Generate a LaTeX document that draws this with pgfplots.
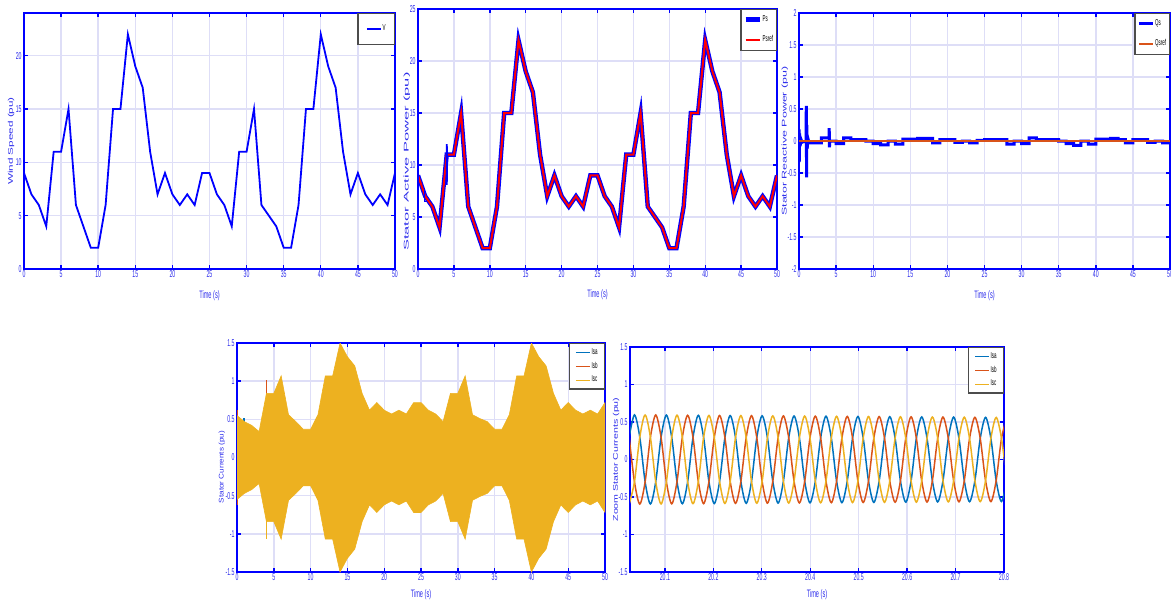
\documentclass[border=0pt]{standalone}
\usepackage{fontspec}
\setmainfont{Liberation Sans}
\newfontfamily\condfam[FakeStretch=0.52]{Liberation Sans}
\usepackage{graphicx}
\usepackage{pgfplots}
\usepackage{pgfplotstable}
\pgfplotsset{compat=1.18}

\definecolor{axblue}{RGB}{0,0,255}
\definecolor{tlblue}{RGB}{45,45,235}
\definecolor{gridc}{RGB}{222,222,247}
\definecolor{mblue}{RGB}{0,114,189}
\definecolor{morange}{RGB}{217,83,25}
\definecolor{myellow}{RGB}{237,177,32}

\newcommand\tkf{\condfam\fontsize{5}{6}\selectfont}
\newcommand\xlf{\condfam\fontsize{5.4}{6.4}\selectfont}
\newcommand\ylf{\fontsize{3.4}{4}\selectfont}
\newcommand\lgf{\condfam\fontsize{4.3}{5}\selectfont}

% wind speed profile (also the active power reference)
\pgfplotstableread{
t v
0 9
1 7
2 6
3 4
4 11
5 11
6 15
7 6
8 4
9 2
10 2
11 6
12 15
13 15
14 22
15 19
16 17
17 11
18 7
19 9
20 7
21 6
22 7
23 6
24 9
25 9
26 7
27 6
28 4
29 11
30 11
31 15
32 6
33 5
34 4
35 2
36 2
37 6
38 15
39 15
40 22
41 19
42 17
43 11
44 7
45 9
46 7
47 6
48 7
49 6
50 9
}\windtab

% zoomed stator currents, read at peaks and half-amplitude points
\pgfplotstableread{
t a b c
20.0262 0.2975 0.2975 -0.595
20.0372 0.595 -0.2975 -0.2975
20.0482 0.297 -0.594 0.297
20.0592 -0.297 -0.297 0.594
20.0701 -0.593 0.2965 0.2965
20.0811 -0.2965 0.593 -0.2965
20.0921 0.296 0.296 -0.592
20.1031 0.592 -0.296 -0.296
20.1141 0.2955 -0.591 0.2955
20.1250 -0.2955 -0.2955 0.591
20.1360 -0.590 0.295 0.295
20.1470 -0.295 0.590 -0.295
20.1580 0.2945 0.2945 -0.589
20.1690 0.589 -0.2945 -0.2945
20.1799 0.294 -0.588 0.294
20.1909 -0.294 -0.294 0.588
20.2019 -0.587 0.2935 0.2935
20.2129 -0.2935 0.587 -0.2935
20.2239 0.293 0.293 -0.586
20.2348 0.586 -0.293 -0.293
20.2458 0.2925 -0.585 0.2925
20.2568 -0.2925 -0.2925 0.585
20.2678 -0.584 0.292 0.292
20.2788 -0.292 0.584 -0.292
20.2897 0.2915 0.2915 -0.583
20.3007 0.583 -0.2915 -0.2915
20.3117 0.291 -0.582 0.291
20.3227 -0.291 -0.291 0.582
20.3337 -0.581 0.2905 0.2905
20.3446 -0.2905 0.581 -0.2905
20.3556 0.290 0.290 -0.580
20.3666 0.580 -0.290 -0.290
20.3776 0.2895 -0.579 0.2895
20.3886 -0.2895 -0.2895 0.579
20.3995 -0.578 0.289 0.289
20.4105 -0.289 0.578 -0.289
20.4215 0.2885 0.2885 -0.577
20.4325 0.577 -0.2885 -0.2885
20.4435 0.288 -0.576 0.288
20.4544 -0.288 -0.288 0.576
20.4654 -0.575 0.2875 0.2875
20.4764 -0.2875 0.575 -0.2875
20.4874 0.287 0.287 -0.574
20.4984 0.574 -0.287 -0.287
20.5093 0.2865 -0.573 0.2865
20.5203 -0.2865 -0.2865 0.573
20.5313 -0.572 0.286 0.286
20.5423 -0.286 0.572 -0.286
20.5533 0.2855 0.2855 -0.571
20.5642 0.571 -0.2855 -0.2855
20.5752 0.285 -0.570 0.285
20.5862 -0.285 -0.285 0.570
20.5972 -0.569 0.2845 0.2845
20.6082 -0.2845 0.569 -0.2845
20.6191 0.284 0.284 -0.568
20.6301 0.568 -0.284 -0.284
20.6411 0.2835 -0.567 0.2835
20.6521 -0.2835 -0.2835 0.567
20.6631 -0.566 0.283 0.283
20.6740 -0.283 0.566 -0.283
20.6850 0.2825 0.2825 -0.565
20.6960 0.565 -0.2825 -0.2825
20.7070 0.282 -0.564 0.282
20.7180 -0.282 -0.282 0.564
20.7289 -0.563 0.2815 0.2815
20.7399 -0.2815 0.563 -0.2815
20.7509 0.281 0.281 -0.562
20.7619 0.562 -0.281 -0.281
20.7729 0.2805 -0.561 0.2805
20.7838 -0.2805 -0.2805 0.561
20.7948 -0.560 0.280 0.280
20.8058 -0.280 0.560 -0.280
}\zoomtab

\pgfplotsset{
  every axis y label/.style={rotate=90,anchor=center},
  every axis x label/.style={anchor=center},
  mat/.style={
    scale only axis, anchor=south west,
    axis line style={draw=axblue,line width=0.9pt},
    tick style={draw=axblue,line width=0.7pt},
    major tick length=2.2pt,
    tick align=inside,
    grid=major,
    major grid style={draw=gridc,line width=0.7pt},
    ticklabel style={font=\tkf,text=tlblue},
    /pgf/number format/assume math mode=true,
    xticklabel style={anchor=north,inner sep=0pt,yshift=-0.8pt},
    yticklabel style={anchor=east,inner sep=0pt,xshift=-1pt},
    xticklabel shift=0pt, yticklabel shift=0pt,
    xlabel style={font=\xlf,text=tlblue},
    ylabel style={font=\ylf,text=tlblue},
    legend style={at={(rel axis cs:1,1)},anchor=north east,draw=black!70,
      line width=0.7pt,fill=white,font=\lgf,inner xsep=1.5pt,inner ysep=2pt,
      row sep=2pt,nodes={inner sep=0.4pt}},
    legend cell align=left,
    legend image code/.code={\draw[##1] (0pt,0pt) -- (7pt,0pt);},
  },
}

\begin{document}
\begin{tikzpicture}

% wind speed
\begin{axis}[mat, at={(12pt,166pt)}, width=185.5pt, height=128pt,
  xmin=0, xmax=50, ymin=0, ymax=24,
  xtick={0,5,...,50}, ytick={0,5,...,20},
  xlabel={Time (s)}, xlabel style={at={(rel axis cs:0.5,-0.105)}},
  ylabel={\scalebox{1.72}[1]{Wind Speed (pu)}}, ylabel style={at={(rel axis cs:-0.035,0.5)}},
  legend style={inner xsep=4pt,inner ysep=5pt}]
\addplot[axblue, line width=0.9pt] table[x=t,y=v]{\windtab};
\legend{V}
\end{axis}

% stator active power
\begin{axis}[mat, at={(209pt,166pt)}, width=179.5pt, height=130pt,
  xmin=0, xmax=50, ymin=0, ymax=25,
  xtick={0,5,...,50}, ytick={0,5,...,25},
  xlabel={Time (s)}, xlabel style={at={(rel axis cs:0.5,-0.1)}},
  ylabel={\scalebox{2.42}[1]{Stator Active Power (pu)}}, ylabel style={at={(rel axis cs:-0.031,0.413)}},
  legend style={inner xsep=1.2pt,inner ysep=2.3pt,row sep=5pt}]
\addplot[axblue, line width=2.2pt] table[x=t,y=v]{\windtab};
\addplot[red, line width=1pt] table[x=t,y=v]{\windtab};
\addplot[axblue, line width=0.8pt, forget plot] coordinates {(0.02,0) (0.02,9.9)};
\addplot[axblue, line width=0.8pt, forget plot] coordinates {(0.93,7.7) (0.93,6.5) (1.2,6.5)};
\addplot[axblue, line width=0.8pt, forget plot] coordinates {(4.0,8.1) (4.0,12) (4.06,8.4) (4.06,11.8)};
\legend{Ps,Psref}
\end{axis}

% stator reactive power
\begin{axis}[mat, at={(399.5pt,166pt)}, width=185.5pt, height=128pt,
  xmin=0, xmax=50, ymin=-2, ymax=2,
  xtick={0,5,...,50}, ytick={-2,-1.5,...,2},
  xlabel={Time (s)}, xlabel style={at={(rel axis cs:0.5,-0.105)}},
  ylabel={\scalebox{1.83}[1]{Stator Reactive Power (pu)}}, ylabel style={at={(rel axis cs:-0.038,0.5)}},
  legend style={inner xsep=1.2pt,inner ysep=2.3pt,row sep=5pt}]
\addplot[axblue, line width=1.5pt] coordinates {
 (0,0.18) (0.03,-0.33) (0.08,0.12) (0.15,-0.08) (0.25,0.03) (0.4,-0.02) (0.6,-0.01)
 (0.95,-0.01) (0.98,0.55) (1.02,-0.57) (1.06,0.25) (1.1,-0.12) (1.2,0.04) (1.35,-0.03)
 (3,-0.03) (3,0.05) (4.05,0.05) (4.07,0.2) (4.1,-0.1) (4.15,0) (5,0) (5,-0.04) (6,-0.04)
 (6,0.05) (7,0.05) (7,0.02) (9,0.02) (9,0) (10,0) (10,-0.04) (11,-0.04) (11,-0.06)
 (12,-0.06) (12,0) (13,0) (13,-0.05) (14,-0.05) (14,0.03) (16,0.03) (16,0.04) (18,0.04)
 (18,-0.03) (19,-0.03) (19,0.02) (21,0.02) (21,-0.02) (22,-0.02) (22,0) (23,0) (23,-0.03)
 (24,-0.03) (24,0.01) (25,0.01) (25,0.02) (28,0.02) (28,-0.05) (29,-0.05) (29,0) (30,0)
 (30,-0.04) (31,-0.04) (31,0.05) (32,0.05) (32,0.02) (35,0.02) (35,0) (36,0) (36,-0.04)
 (37,-0.04) (37,-0.07) (38,-0.07) (38,0) (39,0) (39,-0.05) (40,-0.05) (40,0.03) (42,0.03)
 (42,0.04) (43,0.04) (43,0.02) (44,0.02) (44,-0.03) (45,-0.03) (45,0.02) (47,0.02)
 (47,-0.02) (48,-0.02) (48,0) (49,0) (49,-0.03) (50,-0.03)};
\addplot[morange, line width=1pt] coordinates {(0,0) (50,0)};
\legend{Qs,Qsref}
\end{axis}

% stator currents, envelope of the 3 phases
\begin{axis}[mat, at={(118.5pt,14.5pt)}, width=184pt, height=114.5pt,
  xmin=0, xmax=50, ymin=-1.5, ymax=1.5,
  xtick={0,5,...,50}, ytick={-1.5,-1,...,1.5},
  xlabel={Time (s)}, xlabel style={at={(rel axis cs:0.5,-0.1)}},
  ylabel={\scalebox{1.2}[1]{Stator Currents (pu)}}, ylabel style={at={(rel axis cs:-0.041,0.4585)}},
  legend style={inner xsep=3pt,inner ysep=1.8pt,row sep=1.6pt}]
\addlegendimage{mblue,line width=0.75pt}
\addlegendimage{morange,line width=0.75pt}
\addlegendimage{myellow,line width=0.75pt}
\addplot[morange, line width=0.6pt, forget plot] coordinates {(0.05,-0.62) (0.05,0.62)};
\addplot[mblue, line width=0.6pt, forget plot] coordinates {(0.95,0.3) (0.95,0.52)};
\addplot[morange, line width=0.6pt, forget plot] coordinates {(4.05,0.5) (4.05,1.02)};
\addplot[myellow, line width=0.6pt, forget plot] coordinates {(4.05,-0.5) (4.05,-1.07)};
\addplot[fill=myellow, draw=myellow, line width=0.3pt, forget plot] coordinates {
 (0,0.55) (1,0.47) (2,0.42) (3,0.34) (4,0.84) (5,0.84) (6,1.07) (7,0.56) (8,0.47) (9,0.37)
 (10,0.37) (11,0.56) (12,1.07) (13,1.07) (14,1.5) (15,1.32) (16,1.2) (17,0.84) (18,0.62)
 (19,0.72) (20,0.62) (21,0.57) (22,0.62) (23,0.57) (24,0.72) (25,0.72) (26,0.62) (27,0.57)
 (28,0.47) (29,0.84) (30,0.84) (31,1.07) (32,0.56) (33,0.51) (34,0.47) (35,0.37) (36,0.37)
 (37,0.56) (38,1.07) (39,1.07) (40,1.5) (41,1.32) (42,1.2) (43,0.84) (44,0.62) (45,0.72)
 (46,0.62) (47,0.57) (48,0.62) (49,0.57) (50,0.72)
 (50,-0.72) (49,-0.57) (48,-0.62) (47,-0.57) (46,-0.62) (45,-0.72) (44,-0.62) (43,-0.84)
 (42,-1.2) (41,-1.32) (40,-1.5) (39,-1.07) (38,-1.07) (37,-0.56) (36,-0.37) (35,-0.37)
 (34,-0.47) (33,-0.51) (32,-0.56) (31,-1.07) (30,-0.84) (29,-0.84) (28,-0.47) (27,-0.57)
 (26,-0.62) (25,-0.72) (24,-0.72) (23,-0.57) (22,-0.62) (21,-0.57) (20,-0.62) (19,-0.72)
 (18,-0.62) (17,-0.84) (16,-1.2) (15,-1.32) (14,-1.5) (13,-1.07) (12,-1.07) (11,-0.56)
 (10,-0.37) (9,-0.37) (8,-0.47) (7,-0.56) (6,-1.07) (5,-0.84) (4,-0.84) (3,-0.34) (2,-0.42)
 (1,-0.47) (0,-0.55)};
\legend{Isa,Isb,Isc}
\end{axis}

% zoom on the stator currents
\begin{axis}[mat, at={(315pt,14.5pt)}, width=187pt, height=112.5pt,
  xmin=20.028, xmax=20.8, ymin=-1.5, ymax=1.5,
  xtick={20.1,20.2,...,20.8}, ytick={-1.5,-1,...,1.5},
  xticklabel style={/pgf/number format/.cd,fixed,precision=1},
  xlabel={Time (s)}, xlabel style={at={(rel axis cs:0.5,-0.102)}},
  ylabel={\scalebox{1.56}[1]{Zoom Stator Currents (pu)}}, ylabel style={at={(rel axis cs:-0.037,0.5)}},
  legend style={inner xsep=3pt,inner ysep=1.8pt,row sep=1.6pt}]
\addplot[mblue, line width=0.75pt, smooth] table[x=t,y=a]{\zoomtab};
\addplot[morange, line width=0.75pt, smooth] table[x=t,y=b]{\zoomtab};
\addplot[myellow, line width=0.75pt, smooth] table[x=t,y=c]{\zoomtab};
\legend{Isa,Isb,Isc}
\end{axis}

\pgfresetboundingbox
\path[use as bounding box] (0,0) rectangle (585.5pt,300.5pt);
\end{tikzpicture}
\end{document}
